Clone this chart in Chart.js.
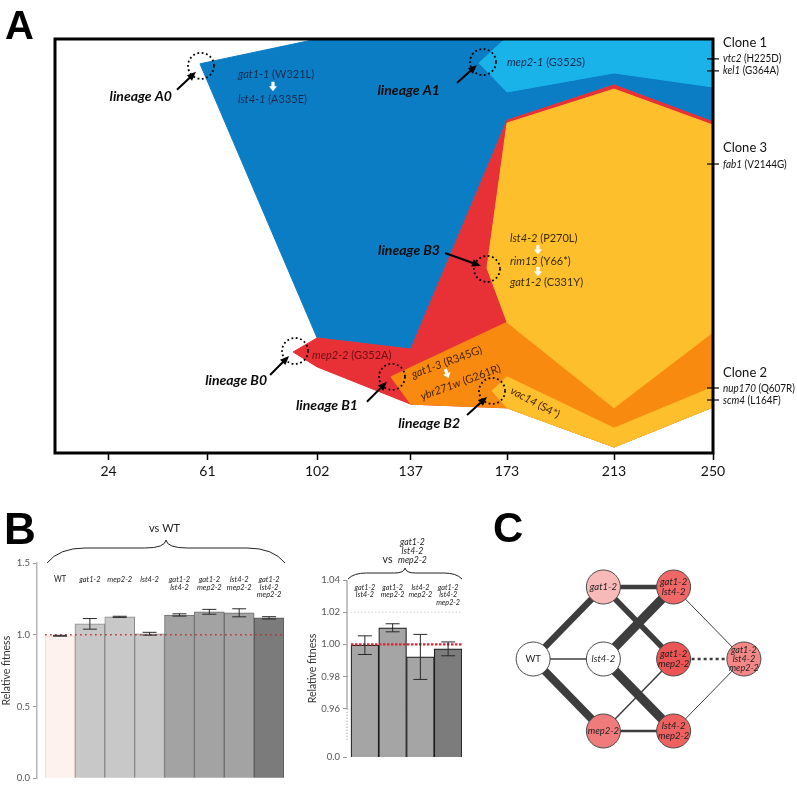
<!DOCTYPE html>
<html><head><meta charset="utf-8">
<script src="https://cdn.jsdelivr.net/npm/chart.js@4.4.1/dist/chart.umd.min.js"></script>
<style>
html,body{margin:0;padding:0;background:#fff;width:797px;height:787px;overflow:hidden}
canvas{position:absolute}
.panel{position:absolute;font-family:'Liberation Sans',Arial,sans-serif;font-weight:bold;color:#000;line-height:1}
</style></head><body>
<canvas id="cA" width="797" height="500" style="left:0;top:0"></canvas>
<canvas id="cB1" width="300" height="287" style="left:0;top:500px"></canvas>
<canvas id="cB2" width="190" height="287" style="left:290px;top:500px"></canvas>
<canvas id="cC" width="317" height="297" style="left:480px;top:490px"></canvas>
<div class="panel" style="left:5px;top:5px;font-size:40px">A</div>
<div class="panel" style="left:4px;top:507px;font-size:44px">B</div>
<div class="panel" style="left:493px;top:507px;font-size:42px">C</div>
<script>
// ================= DATA =================
// Panel A: x-axis (generations)
const genTicks = [24, 61, 102, 137, 173, 213, 250];
// Muller-plot clade outlines (generation, cumulative frequency position 0..1)
const cladeA0_gen  = [58.2, 102, 250, 250, 213, 173, 137, 102, 58.2];
const cladeA0_freq = [0.940, 1.0, 1.0, 0.800, 0.889, 0.804, 0.251, 0.278, 0.940];
const cladeA1_gen  = [162.5, 172.2, 250, 250, 213, 173, 162.5];
const cladeA1_freq = [0.942, 1.0, 1.0, 0.884, 0.918, 0.872, 0.942];
const cladeB0_gen  = [93.0, 102, 137, 173, 213, 250, 250, 213, 173, 137, 102, 93.0];
const cladeB0_freq = [0.244, 0.278, 0.251, 0.804, 0.889, 0.800, 0.111, 0.0145, 0.109, 0.118, 0.208, 0.244];
const cladeB1_gen  = [129.6, 173, 213, 250, 250, 213, 173, 137, 129.6];
const cladeB1_freq = [0.184, 0.316, 0.109, 0.292, 0.111, 0.0145, 0.109, 0.118, 0.184];
const cladeB3_gen  = [165.5, 173, 213, 250, 250, 213, 173, 165.5];
const cladeB3_freq = [0.447, 0.797, 0.879, 0.792, 0.292, 0.109, 0.316, 0.447];
const cladeB2_gen  = [167.4, 173, 213, 250, 250, 213, 173, 167.4];
const cladeB2_freq = [0.150, 0.184, 0.060, 0.159, 0.111, 0.0145, 0.109, 0.150];
// Clone markers on right edge
const cloneHeaders = ['Clone 1', 'Clone 3', 'Clone 2'];
const cloneHeaderFreq = [0.990, 0.737, 0.193];
const cloneMarkGenes = ['vtc2', 'kel1', 'fab1', 'nup170', 'scm4'];
const cloneMarkMuts = [' (H225D)', ' (G364A)', ' (V2144G)', ' (Q607R)', ' (L164F)'];
const cloneMarkFreq = [0.952, 0.923, 0.698, 0.157, 0.128];

// Panel B (left): relative fitness vs WT
const genoVsWT = [['WT'], ['gat1-2'], ['mep2-2'], ['lst4-2'], ['gat1-2', 'lst4-2'], ['gat1-2', 'mep2-2'], ['lst4-2', 'mep2-2'], ['gat1-2', 'lst4-2', 'mep2-2']];
const fitVsWT = [0.993, 1.076, 1.125, 1.007, 1.138, 1.160, 1.153, 1.118];
const errVsWT = [0.003, 0.037, 0.004, 0.010, 0.008, 0.017, 0.028, 0.008];
const yTicksWT = [0, 0.5, 1.0, 1.5];
// Panel B (right): relative fitness vs triple mutant
const genoVsTriple = [['gat1-2', 'lst4-2'], ['gat1-2', 'mep2-2'], ['lst4-2', 'mep2-2'], ['gat1-2', 'lst4-2', 'mep2-2']];
const fitVsTriple = [0.9995, 1.0103, 0.9922, 0.9972];
const errVsTriple = [0.0058, 0.0025, 0.0140, 0.0043];
const yTicksTriple = [0.93, 0.96, 0.98, 1.00, 1.02, 1.04];
const yTickTripleLabels = ['0.0', '0.96', '0.98', '1.00', '1.02', '1.04'];

// Panel C: genotype network
const nodeNames = [['WT'], ['gat1-2'], ['lst4-2'], ['mep2-2'], ['gat1-2', 'lst4-2'], ['gat1-2', 'mep2-2'], ['lst4-2', 'mep2-2'], ['gat1-2', 'lst4-2', 'mep2-2']];
const nodeCol = [0, 1, 1, 1, 2, 2, 2, 3];
const nodeRow = [0, 1, 0, -1, 1, 0, -1, 0];
const edgeFrom = [0, 0, 0, 1, 1, 2, 2, 3, 3, 4, 5, 6];
const edgeTo   = [1, 2, 3, 4, 5, 4, 6, 5, 6, 7, 7, 7];
const edgeWeight = [6.5, 1.5, 8, 4.5, 5.5, 9, 9, 1.5, 2.5, 1, 2.5, 1];
const edgeDotted = [0, 0, 0, 0, 0, 0, 0, 0, 0, 0, 1, 0];

// ================= STYLE =================
const FONT = "Lato, 'Open Sans', 'DejaVu Sans', sans-serif";
function fnt(size, italic, bold) { return (italic ? 'italic ' : '') + (bold ? 'bold ' : '') + size + 'px ' + FONT; }
Chart.defaults.font.family = FONT;
Chart.defaults.animation = false;

// rich text: parts [[text, italic, bold]]; sx = horizontal condensing factor
function rich(ctx, x, y, parts, size, color, align, sx) {
  sx = sx || 1;
  const w = parts.map(p => { ctx.font = fnt(size, p[1], p[2]); return ctx.measureText(p[0]).width; });
  const total = w.reduce((a, b) => a + b, 0) * sx;
  let cx = align === 'right' ? x - total : (align === 'center' ? x - total / 2 : x);
  ctx.save();
  ctx.translate(cx, y); ctx.scale(sx, 1);
  ctx.fillStyle = color; ctx.textBaseline = 'middle'; ctx.textAlign = 'left';
  let off = 0;
  parts.forEach((p, i) => { ctx.font = fnt(size, p[1], p[2]); ctx.fillText(p[0], off, 0); off += w[i]; });
  ctx.restore();
}
function arrow(ctx, x1, y1, x2, y2, color, lw, head) {
  const a = Math.atan2(y2 - y1, x2 - x1), c = Math.cos(a), s = Math.sin(a);
  ctx.strokeStyle = color; ctx.fillStyle = color; ctx.lineWidth = lw; ctx.setLineDash([]);
  ctx.beginPath(); ctx.moveTo(x1, y1); ctx.lineTo(x2 - c * head * 0.8, y2 - s * head * 0.8); ctx.stroke();
  ctx.beginPath(); ctx.moveTo(x2, y2);
  ctx.lineTo(x2 - head * c + head * 0.42 * s, y2 - head * s - head * 0.42 * c);
  ctx.lineTo(x2 - head * c - head * 0.42 * s, y2 - head * s + head * 0.42 * c);
  ctx.closePath(); ctx.fill();
}
function whiteArrow(ctx, x, y, rot) {
  ctx.save(); ctx.translate(x, y); ctx.rotate(rot || 0);
  ctx.fillStyle = '#fff';
  ctx.beginPath();
  ctx.moveTo(-1.6, -5); ctx.lineTo(1.6, -5); ctx.lineTo(1.6, -0.5); ctx.lineTo(4, -0.5);
  ctx.lineTo(0, 4.5); ctx.lineTo(-4, -0.5); ctx.lineTo(-1.6, -0.5); ctx.closePath(); ctx.fill();
  ctx.restore();
}
function brace(ctx, x0, x1, yEnd, yMid, yTip) {
  const xt = (x0 + x1) / 2, hw = xt - x0;
  ctx.beginPath();
  ctx.moveTo(x0, yEnd);
  ctx.quadraticCurveTo(x0 + hw * 0.1, yMid, x0 + hw * 0.32, yMid);
  ctx.lineTo(xt - hw * 0.18, yMid);
  ctx.quadraticCurveTo(xt - 1, yMid, xt, yTip);
  ctx.quadraticCurveTo(xt + 1, yMid, xt + hw * 0.18, yMid);
  ctx.lineTo(x1 - hw * 0.32, yMid);
  ctx.quadraticCurveTo(x1 - hw * 0.1, yMid, x1, yEnd);
  ctx.stroke();
}
const indexTicks = n => (s => { s.ticks = Array.from({length: n}, (_, i) => ({value: i})); });

// ================= PANEL A =================
const clades = [
  {gen: cladeA0_gen, freq: cladeA0_freq, color: '#0b7dc4', order: 6},
  {gen: cladeA1_gen, freq: cladeA1_freq, color: '#19b3ea', order: 5},
  {gen: cladeB0_gen, freq: cladeB0_freq, color: '#e83037', order: 4},
  {gen: cladeB1_gen, freq: cladeB1_freq, color: '#f88a10', order: 3},
  {gen: cladeB3_gen, freq: cladeB3_freq, color: '#fdc02c', order: 2},
  {gen: cladeB2_gen, freq: cladeB2_freq, color: '#fdc02c', order: 1}
];
const BLUE_TXT = '#142c52', YEL_TXT = '#3a2c08', RED_TXT = '#6a0f12', ORA_TXT = '#4a2300';
// annotations anchored to each clade's first point (its origin); offsets in px
const notes = [
  {clade: 0, label: 'lineage A0', lab: [-28, 33], arr: [-23, 26, -4, 8], circ: [1, 2],
   texts: [{d: [38, 11], parts: [['gat1-1', 1], [' (W321L)', 0]], color: BLUE_TXT},
           {d: [38, 36], parts: [['lst4-1', 1], [' (A335E)', 0]], color: BLUE_TXT}],
   wa: [[73, 23, 0]]},
  {clade: 1, label: 'lineage A1', lab: [-39, 27], arr: [-22, 20, -2, 2], circ: [4, -1],
   texts: [{d: [28, -1], parts: [['mep2-1', 1], [' (G352S)', 0]], color: BLUE_TXT}], wa: []},
  {clade: 2, label: 'lineage B0', lab: [-26, 29], arr: [-23, 23, -4, 4], circ: [2, -1],
   texts: [{d: [19, 3], parts: [['mep2-2', 1], [' (G352A)', 0]], color: RED_TXT}], wa: []},
  {clade: 3, label: 'lineage B1', lab: [-33, 29], arr: [-24, 25, -4, 5], circ: [1, 0],
   texts: [{d: [21, -2], rot: -20, parts: [['gat1-3', 1], [' (R345G)', 0]], color: ORA_TXT},
           {d: [30, 20], rot: -20, parts: [['ybr271w', 1], [' (G261R)', 0]], color: ORA_TXT}],
   wa: [[56, -3, -20]]},
  {clade: 4, label: 'lineage B3', lab: [-47, -17], arr: [-42, -15, -6, -2], circ: [0, 1],
   texts: [{d: [23, -29], parts: [['lst4-2', 1], [' (P270L)', 0]], color: YEL_TXT},
           {d: [23, -6], parts: [['rim15', 1], [' (Y66*)', 0]], color: YEL_TXT},
           {d: [23, 15], parts: [['gat1-2', 1], [' (C331Y)', 0]], color: YEL_TXT}],
   wa: [[51, -18, 0], [51, 4, 0]]},
  {clade: 5, label: 'lineage B2', lab: [-32, 33], arr: [-25, 24, -5, 6], circ: [0, 0],
   texts: [{d: [19, -1], rot: 28, parts: [['vac14', 1], [' (S4*)', 0]], color: ORA_TXT}], wa: []}
];

const annotA = {
  id: 'annotA',
  afterDatasetsDraw(chart) {
    const {ctx, chartArea: ca, scales: {x, y}} = chart;
    ctx.save();
    ctx.strokeStyle = '#000'; ctx.lineWidth = 3;
    ctx.strokeRect(ca.left, ca.top, ca.right - ca.left, ca.bottom - ca.top);
    notes.forEach(n => {
      const c = clades[n.clade];
      const tx = x.getPixelForValue(c.gen[0]), ty = y.getPixelForValue(c.freq[0]);
      n.texts.forEach(t => {
        ctx.save(); ctx.translate(tx + t.d[0], ty + t.d[1]);
        if (t.rot) ctx.rotate(t.rot * Math.PI / 180);
        rich(ctx, 0, 0, t.parts, 11, t.color, 'left');
        ctx.restore();
      });
      n.wa.forEach(w => whiteArrow(ctx, tx + w[0], ty + w[1], w[2] * Math.PI / 180));
      ctx.strokeStyle = '#000'; ctx.lineWidth = 1.8; ctx.setLineDash([1.8, 2.6]);
      ctx.beginPath(); ctx.arc(tx + n.circ[0], ty + n.circ[1], 13, 0, Math.PI * 2); ctx.stroke();
      ctx.setLineDash([]);
      arrow(ctx, tx + n.arr[0], ty + n.arr[1], tx + n.arr[2], ty + n.arr[3], '#000', 2, 9);
      rich(ctx, tx + n.lab[0], ty + n.lab[1], [[n.label, 1, 1]], 14, '#0a0a0a', 'right');
    });
    ctx.strokeStyle = '#000'; ctx.lineWidth = 1.2;
    cloneMarkFreq.forEach((f, i) => {
      const yy = y.getPixelForValue(f);
      ctx.beginPath(); ctx.moveTo(ca.right - 6, yy); ctx.lineTo(ca.right + 6, yy); ctx.stroke();
      rich(ctx, ca.right + 10, yy, [[cloneMarkGenes[i], 1], [cloneMarkMuts[i], 0]], 11, '#111', 'left', 0.9);
    });
    cloneHeaders.forEach((h, i) => {
      rich(ctx, ca.right + 10, y.getPixelForValue(cloneHeaderFreq[i]), [[h, 0]], 13, '#111', 'left');
    });
    ctx.restore();
  }
};

new Chart(document.getElementById('cA'), {
  type: 'line',
  data: {datasets: clades.map(c => ({
    data: c.gen.map((g, i) => ({x: g, y: c.freq[i]})),
    fill: 'shape', backgroundColor: c.color, borderColor: c.color, borderWidth: 1,
    pointRadius: 0, tension: 0, order: c.order
  }))},
  options: {
    responsive: false, animation: false,
    layout: {padding: {left: 55, right: 84, top: 39, bottom: 0}},
    plugins: {legend: {display: false}, tooltip: {enabled: false}},
    scales: {
      x: {type: 'linear', min: 4, max: 250,
        afterBuildTicks: s => { s.ticks = genTicks.map(v => ({value: v})); },
        afterFit: s => { s.height = 47; },
        ticks: {autoSkip: false, maxRotation: 0, padding: 3, color: '#111', font: {size: 14}, callback: v => String(v)},
        grid: {drawOnChartArea: false, drawTicks: true, tickLength: 7, tickWidth: 1.5, tickColor: '#000'},
        border: {display: false}},
      y: {type: 'linear', min: 0, max: 1, display: false}
    }
  },
  plugins: [annotA]
});

// ================= PANEL B (left) =================
const b1Colors = ['#fdf2ee', '#c8c8c8', '#c8c8c8', '#c8c8c8', '#a3a3a3', '#a3a3a3', '#a3a3a3', '#7b7b7b'];
const b1Borders = ['#f2d6cc', '#8a8a8a', '#8a8a8a', '#8a8a8a', '#6c6c6c', '#6c6c6c', '#6c6c6c', '#555'];
function errBars(ctx, x, y, vals, errs, cap) {
  ctx.strokeStyle = '#2a2a2a'; ctx.lineWidth = 1; ctx.setLineDash([]);
  vals.forEach((v, i) => {
    const cx = x.getPixelForValue(i), t = y.getPixelForValue(v + errs[i]), b = y.getPixelForValue(v - errs[i]);
    ctx.beginPath(); ctx.moveTo(cx, t); ctx.lineTo(cx, b);
    ctx.moveTo(cx - cap, t); ctx.lineTo(cx + cap, t); ctx.moveTo(cx - cap, b); ctx.lineTo(cx + cap, b); ctx.stroke();
  });
}
const annotB1 = {
  id: 'annotB1',
  afterDatasetsDraw(chart) {
    const {ctx, chartArea: ca, scales: {x, y}} = chart;
    ctx.save();
    const y1 = y.getPixelForValue(1);
    ctx.strokeStyle = '#b5353b'; ctx.lineWidth = 1.6; ctx.setLineDash([1.6, 3.4]);
    ctx.beginPath(); ctx.moveTo(x.getPixelForValue(-0.5), y1); ctx.lineTo(ca.right, y1); ctx.stroke();
    errBars(ctx, x, y, fitVsWT, errVsWT, 7);
    genoVsWT.forEach((lines, i) => {
      const cx = x.getPixelForValue(i);
      lines.forEach((l, j) => rich(ctx, cx, ca.top + 16 + j * 7.8, [[l, l !== 'WT']], 8.5, '#222', 'center', 0.88));
    });
    ctx.strokeStyle = '#222'; ctx.lineWidth = 1;
    brace(ctx, x.getPixelForValue(-0.5) + 2, ca.right + 1, ca.top, ca.top - 15, ca.top - 23);
    rich(ctx, (x.getPixelForValue(-0.5) + ca.right) / 2, ca.top - 35, [['vs WT', 0]], 11, '#222', 'center');
    ctx.restore();
  }
};
new Chart(document.getElementById('cB1'), {
  type: 'bar',
  data: {datasets: [{
    data: fitVsWT.map((v, i) => ({x: i, y: v})),
    backgroundColor: b1Colors, borderColor: b1Borders, borderWidth: 1,
    barPercentage: 1, categoryPercentage: 1
  }]},
  options: {
    responsive: false, animation: false,
    layout: {padding: {left: 0, right: 16, top: 63, bottom: 6}},
    plugins: {legend: {display: false}, tooltip: {enabled: false}},
    scales: {
      x: {type: 'linear', offset: false, min: -0.77, max: 7.5, display: false, afterBuildTicks: indexTicks(fitVsWT.length)},
      y: {min: 0, max: 1.5,
        afterBuildTicks: s => { s.ticks = yTicksWT.map(v => ({value: v})); },
        afterFit: s => { s.width = 37; },
        ticks: {padding: 3, color: '#555', font: {size: 9.5}, callback: v => v.toFixed(1)},
        grid: {drawOnChartArea: false, drawTicks: true, tickLength: 4, tickColor: '#9a9a9a'},
        border: {display: true, color: '#b5b5b5', width: 1.5},
        title: {display: true, text: 'Relative fitness', color: '#333', font: {size: 10.5}, padding: {top: 0, bottom: 2}}}
    }
  },
  plugins: [annotB1]
});

// ================= PANEL B (right) =================
const annotB2 = {
  id: 'annotB2',
  beforeDatasetsDraw(chart) {
    const {ctx, chartArea: ca, scales: {y}} = chart;
    ctx.save();
    ctx.strokeStyle = '#cfcfcf'; ctx.lineWidth = 1; ctx.setLineDash([1.5, 2]);
    [1.02, 0.98, 0.96].forEach(v => {
      const yy = y.getPixelForValue(v);
      ctx.beginPath(); ctx.moveTo(ca.left, yy); ctx.lineTo(ca.right, yy); ctx.stroke();
    });
    ctx.restore();
  },
  afterDatasetsDraw(chart) {
    const {ctx, chartArea: ca, scales: {x, y}} = chart;
    ctx.save();
    ctx.strokeStyle = '#9a9a9a'; ctx.lineWidth = 1.2; ctx.setLineDash([]);
    ctx.beginPath(); ctx.moveTo(ca.left, y.getPixelForValue(1.04)); ctx.lineTo(ca.left, y.getPixelForValue(0.96)); ctx.stroke();
    ctx.setLineDash([1, 2]);
    ctx.beginPath(); ctx.moveTo(ca.left, y.getPixelForValue(0.96)); ctx.lineTo(ca.left, y.getPixelForValue(0.9405)); ctx.stroke();
    const y1 = y.getPixelForValue(1.0);
    ctx.strokeStyle = '#e3222c'; ctx.lineWidth = 2.2; ctx.setLineDash([2.5, 1.5]);
    ctx.beginPath(); ctx.moveTo(x.getPixelForValue(-0.5), y1); ctx.lineTo(ca.right, y1); ctx.stroke();
    errBars(ctx, x, y, fitVsTriple, errVsTriple, 7);
    genoVsTriple.forEach((lines, i) => {
      const cx = x.getPixelForValue(i);
      lines.forEach((l, j) => rich(ctx, cx, ca.top + 7 + j * 7.6, [[l, 1]], 8.5, '#222', 'center', 0.85));
    });
    ctx.strokeStyle = '#222'; ctx.lineWidth = 1; ctx.setLineDash([]);
    brace(ctx, ca.left + 1, ca.right, ca.top - 1, ca.top - 7, ca.top - 12);
    const mx = (ca.left + ca.right) / 2;
    rich(ctx, mx - 17, ca.top - 20, [['vs', 0]], 10.5, '#222', 'center');
    ['gat1-2', 'lst4-2', 'mep2-2'].forEach((l, j) => rich(ctx, mx + 8, ca.top - 38 + j * 9, [[l, 1]], 9.5, '#222', 'center', 0.92));
    ctx.restore();
  }
};
new Chart(document.getElementById('cB2'), {
  type: 'bar',
  data: {datasets: [{
    data: fitVsTriple.map((v, i) => ({x: i, y: v})),
    backgroundColor: ['#a5a5a5', '#a5a5a5', '#a5a5a5', '#7c7c7c'], borderColor: '#1e1e1e', borderWidth: 1.2,
    barPercentage: 1, categoryPercentage: 1
  }]},
  options: {
    responsive: false, animation: false,
    layout: {padding: {left: 16, right: 18, top: 80, bottom: 30}},
    plugins: {legend: {display: false}, tooltip: {enabled: false}},
    scales: {
      x: {type: 'linear', offset: false, min: -0.644, max: 3.5, display: false, afterBuildTicks: indexTicks(fitVsTriple.length)},
      y: {min: 0.93, max: 1.04,
        afterBuildTicks: s => { s.ticks = yTicksTriple.map(v => ({value: v})); },
        afterFit: s => { s.width = 41; },
        ticks: {padding: 3, color: '#555', font: {size: 9.5},
          callback: v => yTickTripleLabels[yTicksTriple.findIndex(t => Math.abs(t - v) < 1e-6)]},
        grid: {drawOnChartArea: false, drawTicks: true, tickLength: 4, tickColor: '#9a9a9a'},
        border: {display: false},
        title: {display: true, text: 'Relative fitness', color: '#333', font: {size: 10.5}, padding: {top: 0, bottom: 2}}}
    }
  },
  plugins: [annotB2]
});

// ================= PANEL C =================
const nodeFill = ['#ffffff', '#f8b9b9', '#ffffff', '#f07b7b', '#ef6767', '#ec5555', '#ee6161', '#f48888'];
const annotC = {
  id: 'annotC',
  afterDatasetsDraw(chart) {
    const {ctx, scales: {x, y}} = chart;
    ctx.save();
    nodeNames.forEach((lines, i) => {
      const cx = x.getPixelForValue(nodeCol[i]), cy = y.getPixelForValue(nodeRow[i]);
      const sz = lines.length === 3 ? 9.5 : 10, lh = lines.length === 3 ? 9 : 10.5;
      lines.forEach((l, j) => rich(ctx, cx, cy + (j - (lines.length - 1) / 2) * lh, [[l, l !== 'WT']], sz, '#1e1e1e', 'center', 0.95));
    });
    ctx.restore();
  }
};
const edgeSets = edgeFrom.map((f, k) => ({
  type: 'line',
  data: [{x: nodeCol[f], y: nodeRow[f]}, {x: nodeCol[edgeTo[k]], y: nodeRow[edgeTo[k]]}],
  borderColor: '#3d3d3d', borderWidth: edgeWeight[k], borderDash: edgeDotted[k] ? [3, 3] : [],
  pointRadius: 0, fill: false, tension: 0, order: 2
}));
new Chart(document.getElementById('cC'), {
  type: 'scatter',
  data: {datasets: [{
    type: 'scatter',
    data: nodeCol.map((c, i) => ({x: c, y: nodeRow[i]})),
    pointRadius: 17, pointBackgroundColor: nodeFill, pointBorderColor: '#4a4a4a', pointBorderWidth: 1,
    order: 0
  }].concat(edgeSets)},
  options: {
    responsive: false, animation: false,
    layout: {padding: {left: 10, right: 3, top: 61, bottom: 20}},
    plugins: {legend: {display: false}, tooltip: {enabled: false}},
    scales: {
      x: {type: 'linear', min: -0.5, max: 3.5, display: false},
      y: {type: 'linear', min: -1.5, max: 1.5, display: false}
    }
  },
  plugins: [annotC]
});
</script>
</body></html>
